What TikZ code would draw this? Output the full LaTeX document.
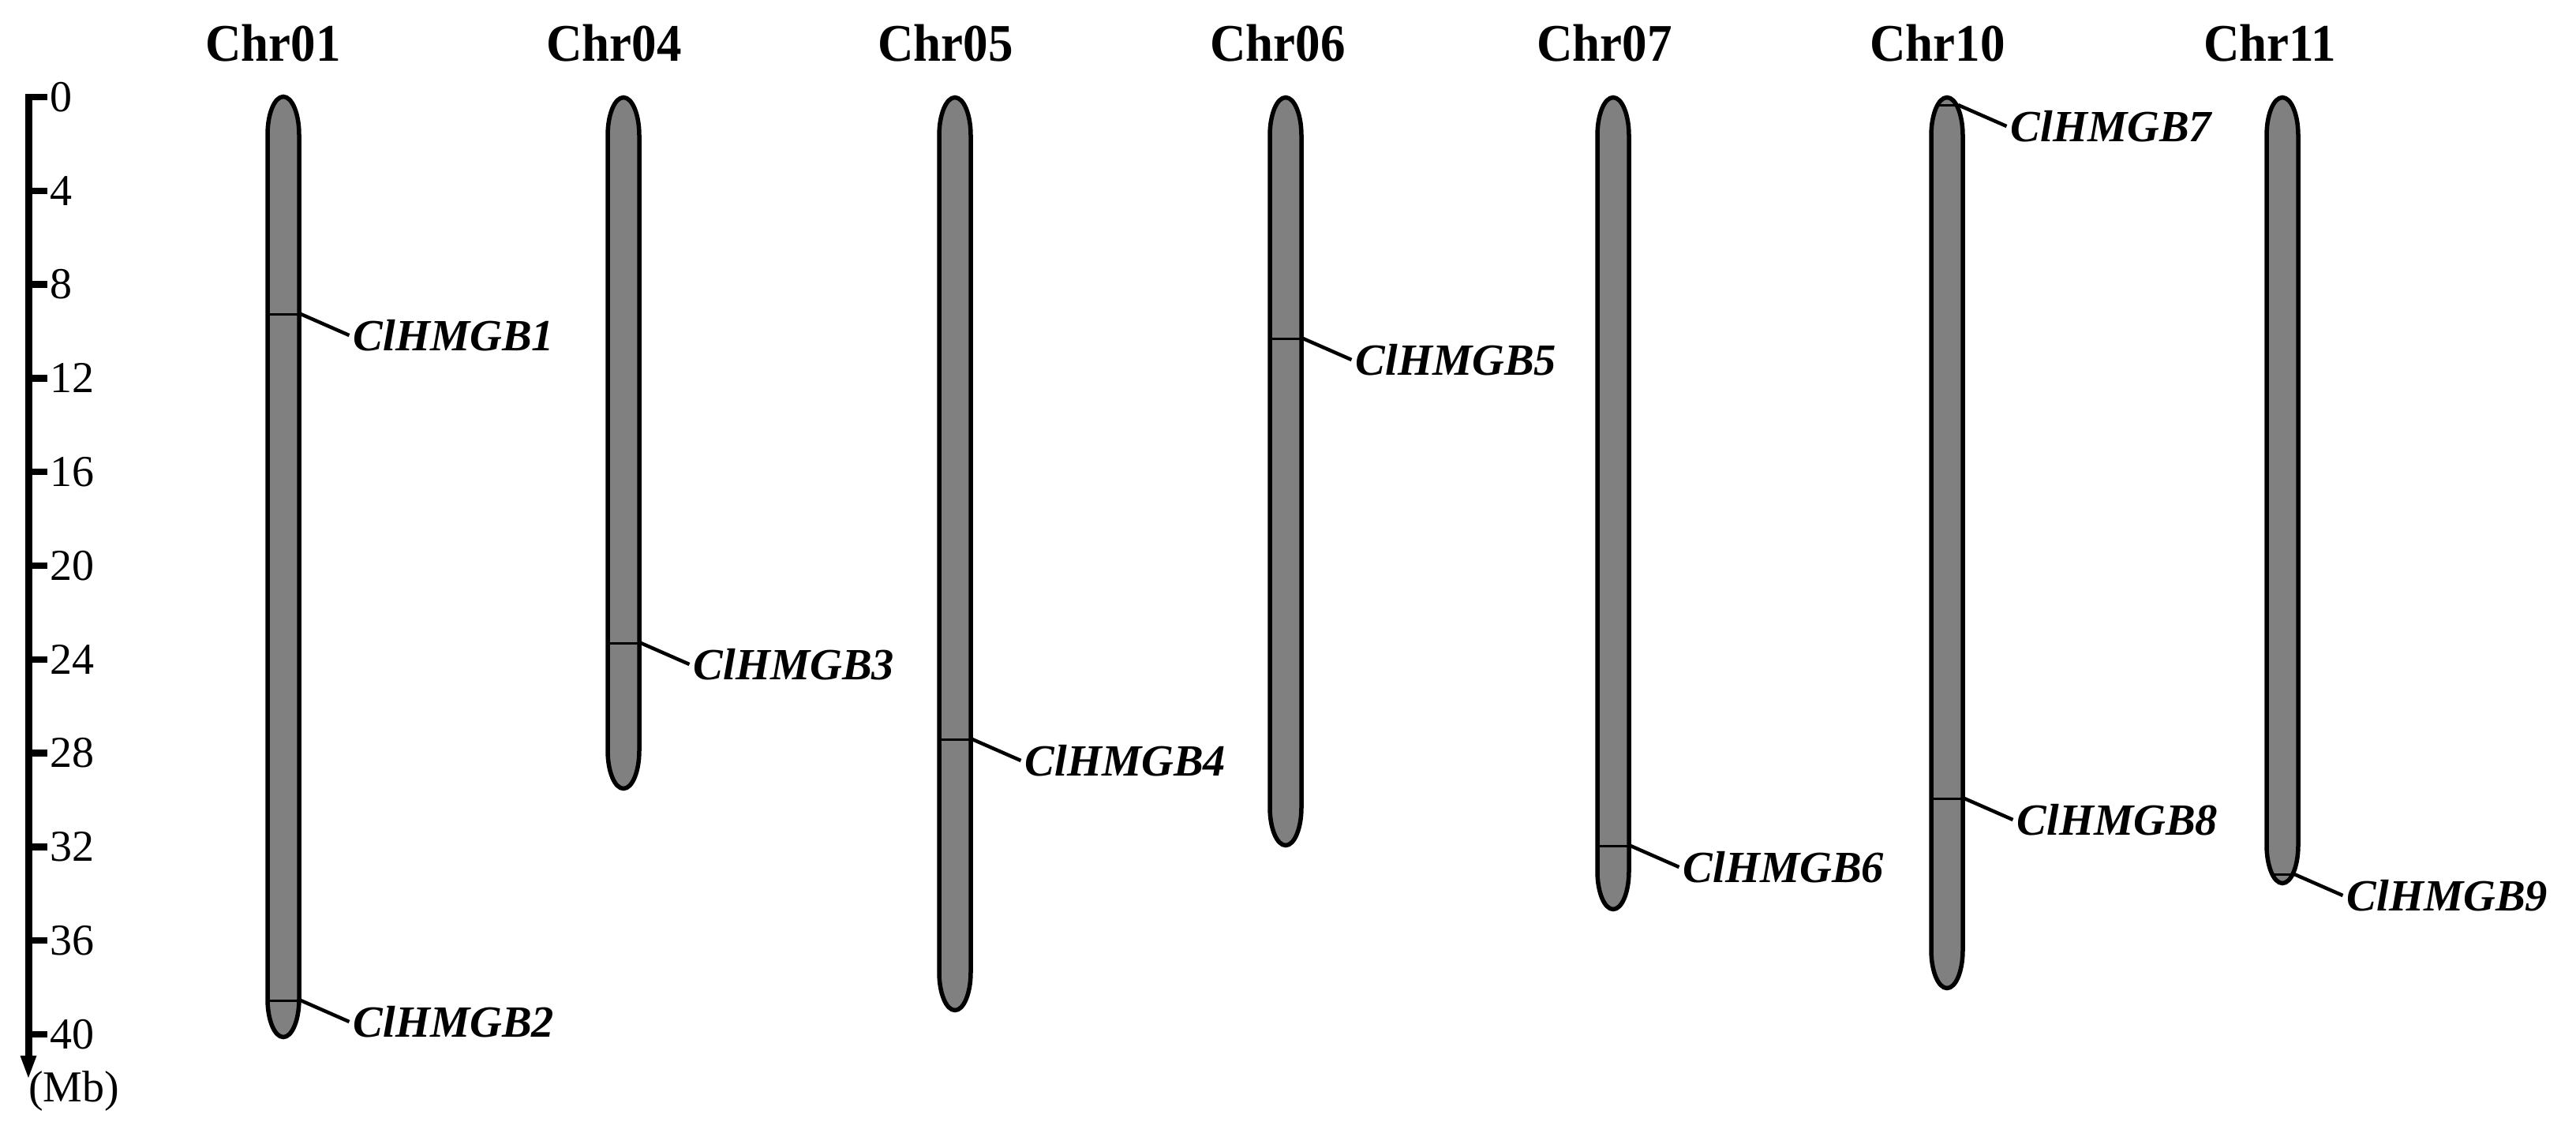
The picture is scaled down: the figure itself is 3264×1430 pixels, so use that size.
\documentclass[tikz,border=0pt]{standalone}
\usepackage{graphicx}
\usepackage{fontspec}
\setmainfont{Liberation Serif}
\tikzset{
  chromstyle/.style={fill=chromgray, draw=black, line width=5.5pt},
  markerline/.style={draw=black, line width=3pt},
  leader/.style={draw=black, line width=4.5pt},
  genelabel/.style={anchor=west, inner xsep=5pt, inner ysep=0pt, font=\fontsize{56.5}{60}\selectfont\bfseries\itshape},
  chrtitle/.style={anchor=base, inner sep=0pt, font=\fontsize{67}{70}\selectfont\bfseries},
  ticklabel/.style={anchor=west, inner xsep=3pt, inner ysep=0pt, font=\fontsize{56}{60}\selectfont},
}
\definecolor{chromgray}{RGB}{128,128,128}
% cx, top, bottom
\newcommand\mychrom[3]{%
  \path[chromstyle] (#1-20,#2+50.5) arc[start angle=180,end angle=360,x radius=20,y radius=48]
    -- (#1+20,#3-50.5) arc[start angle=0,end angle=180,x radius=20,y radius=48] -- cycle;}
% id, cx, y, half width, text
\newcommand\mygene[5]{%
  \draw[markerline] (#2-#4,#3) -- (#2+#4,#3);
  \coordinate (s#1) at (#2+#4+2,#3);
  \node[genelabel] (g#1) at (#2+#4+63.5,#3+27) {#5};
  \draw[leader] (s#1) -- (g#1.west);}
\begin{document}
\begin{tikzpicture}[x=1pt,y=-1pt]
\useasboundingbox (0,0) rectangle (3264,1430);
% scale axis
\draw[line width=9pt] (36,119) -- (36,1342);
\fill (25.5,1338) -- (46.5,1338) -- (36,1366) -- cycle;
\foreach \v in {0,4,...,40} {
  \draw[line width=8.5pt] (36,123+29.7*\v) -- (60,123+29.7*\v);
  \node[ticklabel] (t\v) at (60,123+29.7*\v) {\v};
}
\node[anchor=west, inner sep=0pt, font=\fontsize{56}{60}\selectfont] (mb) at (36,1383) {(Mb)};
% titles
\node[chrtitle] (c01) at (346,77) {\scalebox{0.94}[1]{Chr01}};
\node[chrtitle] (c04) at (778,77) {\scalebox{0.94}[1]{Chr04}};
\node[chrtitle] (c05) at (1198,77) {\scalebox{0.94}[1]{Chr05}};
\node[chrtitle] (c06) at (1619,77) {\scalebox{0.94}[1]{Chr06}};
\node[chrtitle] (c07) at (2033,77) {\scalebox{0.94}[1]{Chr07}};
\node[chrtitle] (c10) at (2455,77) {\scalebox{0.94}[1]{Chr10}};
\node[chrtitle] (c11) at (2876,77) {\scalebox{0.94}[1]{Chr11}};
% chromosomes
\mychrom{359}{120}{1317}
\mychrom{790}{121}{1002}
\mychrom{1210}{121}{1283}
\mychrom{1629}{121}{1074}
\mychrom{2044}{121}{1155}
\mychrom{2467}{121}{1255}
\mychrom{2892}{121}{1122}
% genes
\mygene{1}{359}{398}{20}{ClHMGB1}
\mygene{2}{359}{1268}{20}{ClHMGB2}
\mygene{3}{790}{815}{20}{ClHMGB3}
\mygene{4}{1210}{937}{20}{ClHMGB4}
\mygene{5}{1629}{429}{20}{ClHMGB5}
\mygene{6}{2044}{1072}{20}{ClHMGB6}
\mygene{7}{2467}{133}{12}{ClHMGB7}
\mygene{8}{2467}{1012}{20}{ClHMGB8}
\mygene{9}{2892}{1108}{13}{ClHMGB9}
\end{tikzpicture}
\end{document}
